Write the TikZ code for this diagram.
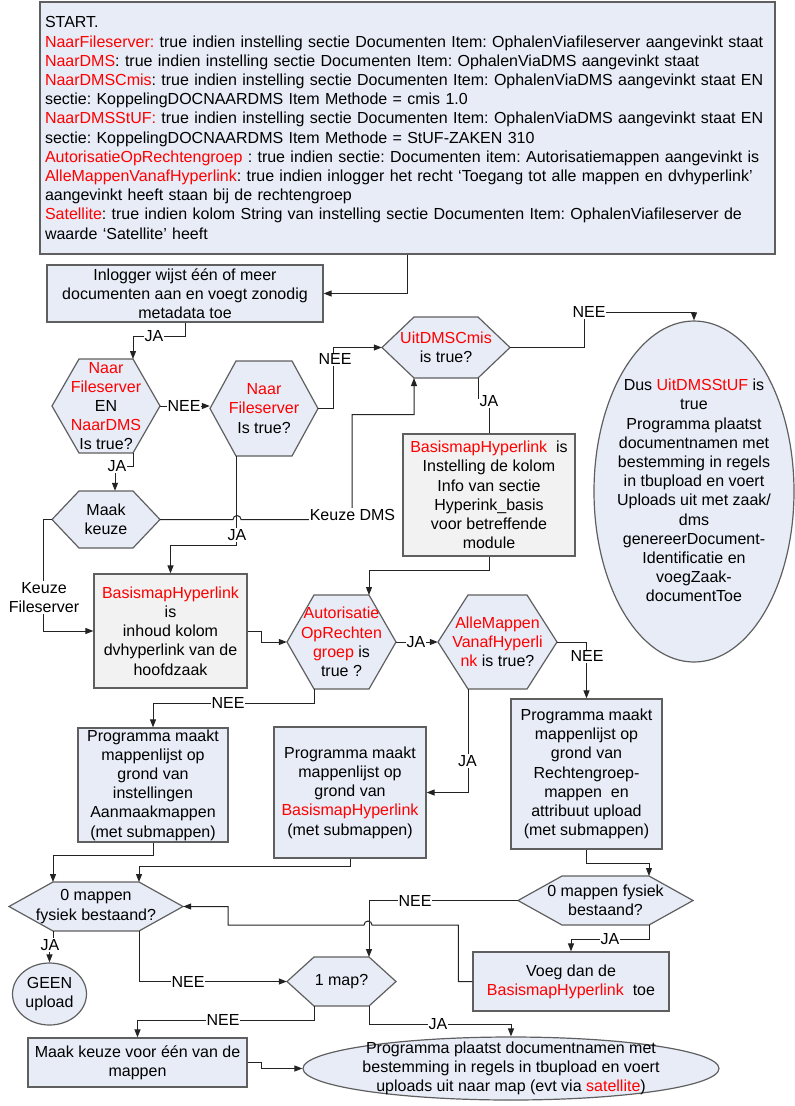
\documentclass[tikz,border=0pt]{standalone}
\usepackage{fontspec}
\setmainfont{Liberation Sans}
\usetikzlibrary{arrows.meta,calc,shapes.geometric}
\definecolor{boxblue}{RGB}{231,236,246}
\definecolor{boxgray}{RGB}{242,242,242}
\definecolor{edgecol}{RGB}{95,95,95}
\definecolor{wirecol}{RGB}{35,35,35}
\definecolor{hl}{RGB}{255,0,0}
\newcommand\rd[1]{\textcolor{hl}{#1}}
\newcommand\fs{\fontsize{16}{19.2}\selectfont}
\frenchspacing
% name, cx, cy, half width, half height, inset, text
\newcommand\hexa[7]{%
  \path[hexshape] ({#2-#4},{#3}) -- ({#2-#4+#6},{#3-#5}) -- ({#2+#4-#6},{#3-#5}) -- ({#2+#4},{#3}) -- ({#2+#4-#6},{#3+#5}) -- ({#2-#4+#6},{#3+#5}) -- cycle;
  \node[hextxt, minimum width={2*#4}, minimum height={2*#5}] (#1) at (#2,#3) {#7};
  \coordinate (#1-tl) at ({#2-#4+#6},{#3-#5});
  \coordinate (#1-tr) at ({#2+#4-#6},{#3-#5});
  \coordinate (#1-bl) at ({#2-#4+#6},{#3+#5});
  \coordinate (#1-br) at ({#2+#4-#6},{#3+#5});
}
\begin{document}
\begin{tikzpicture}[x=1pt,y=-1pt,
  box/.style={draw=edgecol, fill=boxblue, line width=1.2pt, inner sep=0pt, align=center, font=\fs},
  gbox/.style={box, fill=boxgray},
  hexshape/.style={draw=edgecol, fill=boxblue, line width=1.2pt, line join=miter},
  hextxt/.style={inner sep=0pt, align=center, font=\fs},
  oval/.style={ellipse, draw=edgecol, fill=boxblue, line width=1.2pt, inner sep=0pt},
  ovaltxt/.style={inner sep=0pt, align=center, font=\fs},
  conn/.style={draw=wirecol, line width=1pt, -{Triangle[length=8pt,width=6pt]}},
  wire/.style={draw=wirecol, line width=1pt},
  lbl/.style={fill=white, inner sep=1pt, align=center, font=\fs}]
\useasboundingbox (0,0) rectangle (795,1106);

% ---------- shapes ----------
\node[box, minimum width=735, minimum height=252, text width=725, align=left] (top) at (407.5,128) {%
START.\\
\rd{NaarFileserver:} true indien instelling sectie Documenten Item: OphalenViafileserver aangevinkt staat\\
\rd{NaarDMS}: true indien instelling sectie Documenten Item: OphalenViaDMS aangevinkt staat\\
\rd{NaarDMSCmis}: true indien instelling sectie Documenten Item: OphalenViaDMS aangevinkt staat EN\\
sectie: KoppelingDOCNAARDMS Item Methode = cmis 1.0\\
\rd{NaarDMSStUF:} true indien instelling sectie Documenten Item: OphalenViaDMS aangevinkt staat EN\\
sectie: KoppelingDOCNAARDMS Item Methode = StUF-ZAKEN 310\\
\rd{AutorisatieOpRechtengroep} : true indien sectie: Documenten item: Autorisatiemappen aangevinkt is\\
\rd{AlleMappenVanafHyperlink}: true indien inlogger het recht ‘Toegang tot alle mappen en dvhyperlink’\\
aangevinkt heeft staan bij de rechtengroep\\
\rd{Satellite}: true indien kolom String van instelling sectie Documenten Item: OphalenViafileserver de\\
waarde ‘Satellite’ heeft};

\node[box, minimum width=276, minimum height=57] (inl) at (185,293.5)
  {Inlogger wijst één of meer\\documenten aan en voegt zonodig\\metadata toe};

\hexa{h1}{106}{406}{54}{47}{27}{\rd{Naar}\\\rd{Fileserver}\\EN\\\rd{NaarDMS}\\Is true?}
\hexa{h2}{264}{408.5}{54}{47.5}{26}{\rd{Naar}\\\rd{Fileserver}\\Is true?}
\hexa{mk}{106}{519.5}{54}{28.5}{27}{Maak\\keuze}
\hexa{uit}{446}{347.5}{64}{30.5}{32}{\rd{UitDMSCmis}\\is true?}

\node[gbox, minimum width=172, minimum height=122] (bh2) at (489,495)
  {\rd{BasismapHyperlink}\ \ is\\Instelling de kolom\\Info van sectie\\Hyperink\_basis\\voor betreffende\\module};

\node[oval, minimum width=200, minimum height=341] (big) at (694,491.5) {};
\node[ovaltxt] (bigt) at (694,490.5)
  {Dus \rd{UitDMSStUF} is\\true\\Programma plaatst\\documentnamen met\\bestemming in regels\\in tbupload en voert\\Uploads uit met zaak/\\dms\\genereerDocument-\\Identificatie en\\voegZaak-\\documentToe};

\node[gbox, minimum width=153, minimum height=114] (bh1) at (170.5,631)
  {\rd{BasismapHyperlink}\\is\\inhoud kolom\\dvhyperlink van de\\hoofdzaak};

\hexa{aut}{341.5}{642}{54.5}{47}{27}{\rd{Autorisatie}\\\rd{OpRechten}\\\rd{groep} is\\true ?}
\hexa{alle}{497.5}{642}{59.5}{47}{30}{\rd{AlleMappen}\\\rd{VanafHyperli}\\\rd{nk} is true?}

\node[box, minimum width=150, minimum height=114] (aan) at (153,785)
  {Programma maakt\\mappenlijst op\\grond van\\instellingen\\Aanmaakmappen\\(met submappen)};
\node[box, minimum width=152, minimum height=131] (bh3) at (350,792.5)
  {Programma maakt\\mappenlijst op\\grond van\\\rd{BasismapHyperlink}\\(met submappen)};
\node[box, minimum width=151, minimum height=150] (rg) at (586.5,774)
  {Programma maakt\\mappenlijst op\\grond van\\Rechtengroep-\\mappen\ \ en\\attribuut upload\\(met submappen)};

\hexa{l0}{96}{906.5}{87}{24.5}{44}{0 mappen\\fysiek bestaand?}
\hexa{r0}{605.5}{900.5}{87.5}{24.5}{44}{0 mappen fysiek\\bestaand?}
\hexa{m1}{341.5}{981.5}{54.5}{24.5}{27}{1 map?}

\node[oval, minimum width=74, minimum height=62] (geen) at (49.5,994) {};
\node[ovaltxt] (geent) at (49.5,994) {GEEN\\upload};

\node[box, minimum width=196, minimum height=59] (voeg) at (571,981.5)
  {Voeg dan de\\\rd{BasismapHyperlink}\ \ toe};
\node[box, minimum width=219, minimum height=49] (mkb) at (137.5,1062.5)
  {Maak keuze voor één van de\\mappen};

\node[oval, minimum width=416, minimum height=63] (fin) at (511,1068.5) {};
\node[ovaltxt] (fint) at (511,1068.5)
  {Programma plaatst documentnamen met\\bestemming in regels in tbupload en voert\\uploads uit naar map (evt via \rd{satellite})};

% ---------- helper coordinates ----------
\coordinate (hopA) at (237,519.5);
\coordinate (kdms) at (352,519.5);
\coordinate (hopB) at (368,925);
\coordinate (bendB) at (228,925);

% ---------- connectors ----------
\draw[conn] (top.south) |- (inl.east);
\draw[conn] (inl.south) -- ++(0,14) -| (h1-tr);
\draw[conn] (h1.east) -- (h1.east -| h2.west);
\draw[conn] (h2.east) -- ++(15,0) |- (uit.west);
\draw[conn] (h1-br) -- ++(0,13) -| ($(mk.north)+(9,0)$);
\draw[conn] (mk.east) -- ($(hopA)-(4,0)$) arc[start angle=180,end angle=360,radius=4] -- (kdms) -- ++(0,-105) -| (uit-bl);
\draw[conn] (h2-bl) -- ++(0,89) -| (bh1.north);
\draw[conn] (mk.west) -- ++(-8,0) |- (bh1.west);
\draw[conn] (bh1.east) -- ++(14,0) |- (aut.west);
\draw[conn] (bh2.south) -- ++(0,14) -| (aut-tr);
\draw[wire] (uit-br) -- ++(0,20) -| (bh2.north);
\draw[conn] (uit.east) -- ++(74,0) -- ++(0,-35.5) -| (big.north);
\draw[conn] (aut.east) -- (alle.west);
\draw[conn] (alle.east) -| (rg.north);
\draw[conn] (alle-bl) |- (bh3.east);
\draw[conn] (aut-bl) -- ++(0,14) -| (aan.north);
\draw[conn] (aan.south) -- ++(0,13) -| (l0-tl);
\draw[conn] (bh3.south) -- ++(0,8) -| (l0-tr);
\draw[conn] (rg.south) -- ++(0,14) -| (r0-tr);
\draw[conn] (r0.west) -| (m1-tr);
\draw[conn] (r0-br) -- ++(0,14) -| (voeg.north);
\draw[conn] (voeg.west) -- ++(-14,0) |- ($(hopB)+(4,0)$) arc[start angle=0,end angle=-180,radius=4] -- (bendB) |- (l0.east);
\draw[conn] (l0-bl) -- ++(0,14) -| (geen.north);
\draw[conn] (l0-br) |- (m1.west);
\draw[conn] (m1-bl) -- ++(0,14) -| (mkb.north);
\draw[conn] (m1-br) -- ++(0,18) -| (fin.north);
\draw[conn] (mkb.east) -- ++(14,0) |- (fin.west);

% ---------- labels ----------
\node[lbl] (la1) at (154,336) {JA};
\node[lbl] (la2) at (184,406) {NEE};
\node[lbl] (la3) at (335,359) {NEE};
\node[lbl] (la4) at (117,466) {JA};
\node[lbl] (la5) at (352.5,515) {Keuze DMS};
\node[lbl] (la6) at (237,535) {JA};
\node[lbl] (la7) at (44,597.5) {Keuze\\Fileserver};
\node[lbl] (la8) at (489,401) {JA};
\node[lbl] (la9) at (589,312) {NEE};
\node[lbl] (la10) at (416,642) {JA};
\node[lbl] (la11) at (587,656) {NEE};
\node[lbl] (la12) at (467.5,761) {JA};
\node[lbl] (la13) at (228,703) {NEE};
\node[lbl] (la14) at (415,900.5) {NEE};
\node[lbl] (la15) at (610,939) {JA};
\node[lbl] (la16) at (50,945) {JA};
\node[lbl] (la17) at (188,982) {NEE};
\node[lbl] (la18) at (223,1020) {NEE};
\node[lbl] (la19) at (438,1024) {JA};
\end{tikzpicture}
\end{document}
